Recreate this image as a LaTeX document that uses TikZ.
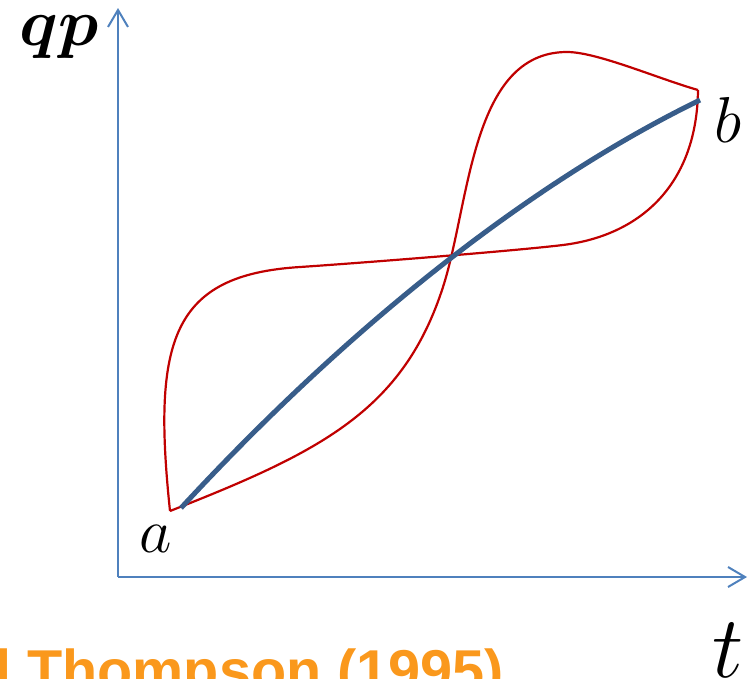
\documentclass[tikz,border=0pt]{standalone}
\usepackage{bm}
\usepackage{fontspec}
\newfontfamily\arialfont{Liberation Sans}
\usetikzlibrary{arrows.meta}
\definecolor{axisblue}{RGB}{79,129,189}
\definecolor{pathblue}{RGB}{56,93,138}
\definecolor{pathred}{RGB}{192,0,0}
\definecolor{refor}{RGB}{250,152,28}
\tikzset{
  axis/.style={draw=axisblue, line width=2pt, -{Straight Barb[length=17pt,width=20pt,line width=2pt]}},
  redpath/.style={draw=pathred, line width=2.2pt},
  bluepath/.style={draw=pathblue, line width=5pt},
  mathlabel/.style={anchor=base west, inner sep=0pt, text=black, font=\Huge},
}
\begin{document}
\begin{tikzpicture}[x=1pt,y=-1pt]
\useasboundingbox (0,0) rectangle (755,678);
% axes
\coordinate (O) at (118,577);
\coordinate (Ytip) at (118,8);
\coordinate (Xtip) at (747,577);
\draw[axis] (O) -- (Ytip);
\draw[axis] (O) -- (Xtip);
% endpoints
\coordinate (A) at (170,511);
\coordinate (B) at (698,90);
\coordinate (Ab) at (181,508);
\coordinate (Bb) at (700,100);
% red path 1 (left loop, then flat, then up to b)
\draw[redpath] (A) .. controls (152,340) and (172,275) .. (300,267)
  .. controls (360,263) and (513,251) .. (563,245)
  .. controls (643,235) and (697,182) .. (B);
% red path 2 (right-going, steep, then over the top to b)
\draw[redpath] (A) .. controls (320,452) and (403,411) .. (443,287)
  .. controls (470,203) and (471,52) .. (567,52)
  .. controls (597,52) and (658,78.6) .. (B);
% blue classical path
\draw[bluepath] (Ab) .. controls (350,325) and (530,183) .. (Bb);
% labels
\node[mathlabel, scale=2.69] (qp) at (19,45) {$\bm{qp}$};
\node[mathlabel, scale=2.53] (la) at (139,552) {$a$};
\node[mathlabel, scale=2.61] (lb) at (714,142) {$b$};
\node[mathlabel, scale=3.54] (lt) at (712,677) {$t$};
\node[anchor=base west, inner sep=0pt, text=refor, font=\arialfont\bfseries\fontsize{57.6}{60}\selectfont] (ref) at (-5,690) {l Thompson (1995)};
\end{tikzpicture}
\end{document}
